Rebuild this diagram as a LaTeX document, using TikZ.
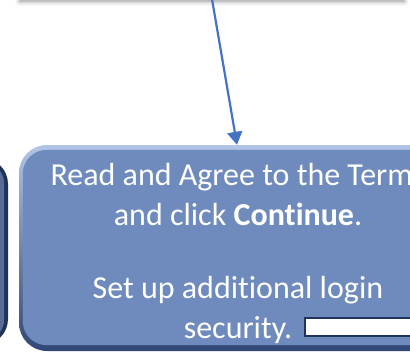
\documentclass[tikz,border=0pt]{standalone}
\usepackage{fontspec}
\setmainfont{Carlito}[Ligatures=NoCommon]
\usetikzlibrary{shadows.blur,arrows.meta}
\definecolor{boxblue}{RGB}{111,139,190}
\definecolor{boxlight}{RGB}{178,197,230}
\definecolor{boxdark}{RGB}{48,72,118}
\definecolor{navy}{RGB}{31,52,92}
\definecolor{navyin}{RGB}{86,108,150}
\definecolor{arrowblue}{RGB}{68,114,196}
\tikzset{
  bevelbox/.style={rounded corners=28pt, draw=none, top color=boxlight, middle color=boxblue, bottom color=boxdark},
  darkbox/.style={rounded corners=26pt, draw=none, fill=navy},
  steptext/.style={text=white, font=\fontsize{32}{38}\selectfont, anchor=base, inner sep=0pt},
  flow/.style={arrowblue, line width=2.2pt, -{Triangle[length=13pt,width=15pt]}},
  inputfield/.style={draw=navy, line width=2pt, fill=white, minimum width=120pt, minimum height=18pt, inner sep=0pt, anchor=west}
}
\begin{document}
\begin{tikzpicture}[x=1pt,y=-1pt]
\useasboundingbox (0,0) rectangle (410,354);
\clip (0,0) rectangle (410,354);

% previous step box, only its lower shadow shows
\node[fill=white, minimum width=384pt, minimum height=80pt,
      blur shadow={shadow xshift=0pt, shadow yshift=-2pt, shadow blur radius=5pt, shadow opacity=45}]
      (top) at (212,-41) {};

% neighbouring step box on the left
\node[darkbox, minimum width=438pt, minimum height=187pt] (left) at (-211,251.5) {};
\fill[navyin, rounded corners=22pt] ([shift={(4,4)}]left.north west) rectangle ([shift={(-4,-4)}]left.south east);

% current step box with bevelled edge
\node[bevelbox, minimum width=436pt, minimum height=206pt] (main) at (237,248) {};
\fill[boxblue, rounded corners=24pt] ([shift={(4,5)}]main.north west) rectangle ([shift={(-4,-6)}]main.south east);

\node[steptext] (l1) at (238,185) {Read and Agree to the Terms};
\node[steptext] (l2) at (238,225) {and click \textbf{Continue}.};
\node[steptext] (l3) at (238,298) {Set up additional login};
\node[steptext] (l4) at (238,338) {security.};

\node[inputfield] (field) at (304,327) {};

\draw[flow] (top.south) -- (main.north);
\end{tikzpicture}
\end{document}
